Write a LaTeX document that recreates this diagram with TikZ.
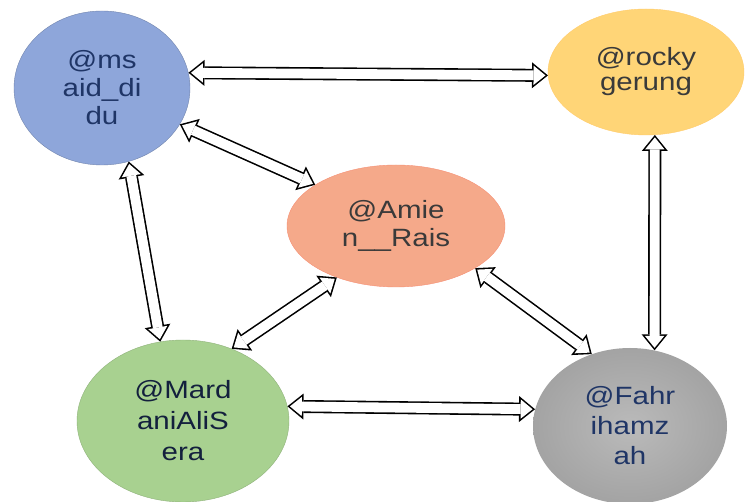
\documentclass[tikz,border=0pt]{standalone}
\usepackage{fontspec}
\setmainfont[FakeStretch=1.18]{Liberation Sans}
\usetikzlibrary{arrows.meta, shapes.geometric}

\definecolor{msblue}{HTML}{8EA6DA}
\definecolor{rockyyellow}{HTML}{FFD577}
\definecolor{amiensalmon}{HTML}{F5A98A}
\definecolor{mardgreen}{HTML}{A8D190}
\definecolor{navytext}{HTML}{1F3566}
\definecolor{darktext}{HTML}{3A3A3A}

\tikzset{
	user/.style={ellipse, inner sep=0pt, align=center, font=\fontsize{25}{28}\selectfont},
	biarrow/.style={line width=13pt, {Triangle[length=16pt,width=26pt,line width=0pt]}-{Triangle[length=16pt,width=26pt,line width=0pt]},
		postaction={draw=white, line width=9.8pt, shorten <=2.5pt, shorten >=2.5pt,
		{Triangle[length=11.9pt,width=19.3pt,line width=0pt]}-{Triangle[length=11.9pt,width=19.3pt,line width=0pt]}}}
}

\begin{document}
\begin{tikzpicture}[x=1pt, y=-1pt]
		 \useasboundingbox[fill=white] (0,0) rectangle (748,502);
	     % nodes %
		 \node[user, fill=msblue, draw=msblue!80!black, minimum width=176, minimum height=154, text=navytext] (ms) at (102,88) {@ms\\aid\_di\\du};
		 \node[user, fill=rockyyellow, draw=rockyyellow!90!orange, minimum width=196, minimum height=126, text=darktext, font=\fontsize{25}{25}\selectfont] (rocky) at (646,72) {@rocky\\gerung};
		 \node[user, fill=amiensalmon, draw=amiensalmon!85!red, minimum width=218, minimum height=122, text=darktext] (amien) at (396,226) {@Amie\\n\_\_Rais};
		 \node[user, fill=mardgreen, draw=mardgreen!85!black, minimum width=212, minimum height=162, text=navytext!60!black, font=\fontsize{25}{31}\selectfont] (mard) at (183,421) {@Mard\\aniAliS\\era};
		 \node[user, inner color=black!27, outer color=black!36, minimum width=194, minimum height=156, text=navytext, font=\fontsize{25}{30}\selectfont] (fahri) at (630,426) {@Fahr\\ihamz\\ah};
		
		 % edges %
		 \draw[biarrow] (ms.10) -- (rocky.182);
		 \draw[biarrow] (ms.335) -- (amien.153);
		 \draw[biarrow] (ms.290) -- (mard.106);
		 \draw[biarrow] (rocky.278) -- (fahri.72);
		 \draw[biarrow] (amien.221) -- (mard.56);
		 \draw[biarrow] (amien.332) -- (fahri.118);
		 \draw[biarrow] (mard.8) -- (fahri.170);
	     \end{tikzpicture}
\end{document}
